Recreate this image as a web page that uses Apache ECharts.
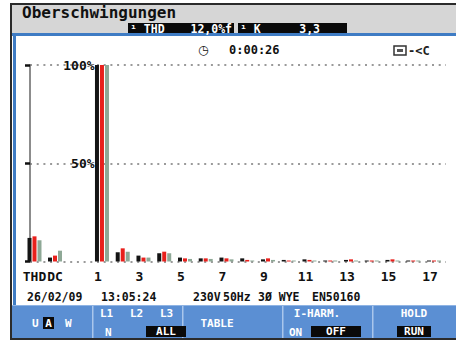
<!DOCTYPE html>
<html>
<head>
<meta charset="utf-8">
<script src="https://cdn.jsdelivr.net/npm/echarts@6/dist/echarts.min.js"></script>
<style>
  html, body { margin: 0; padding: 0; background: #fff; }
  #chart { width: 456px; height: 343px; }
</style>
</head>
<body>
<div id="chart"></div>
<script>
// Summary columns and harmonic orders on the x axis
const summaryCats = ['THD', 'DC'];
const harmonicCats = ['1', '2', '3', '4', '5', '6', '7', '8', '9', '10', '11', '12', '13', '14', '15', '16', '17'];

// Phase currents, % of fundamental (L1 black, L2 red, L3 grey)
const l1Summary = [12.0, 2.0];
const l2Summary = [12.8, 3.0];
const l3Summary = [10.8, 5.5];

const l1Harmonics = [100, 4.7, 3.0, 4.2, 2.0, 1.6, 2.0, 1.6, 1.1, 0.8, 1.1, 0.5, 0.8, 0.5, 0.8, 0.5, 0.5];
const l2Harmonics = [100, 6.7, 2.0, 5.0, 1.6, 1.6, 1.6, 0.8, 1.6, 0.5, 0.8, 0.5, 1.1, 0.5, 1.1, 0.5, 0.5];
const l3Harmonics = [100, 5.0, 2.0, 4.2, 1.3, 1.3, 1.1, 0.5, 0.8, 0.5, 0.5, 0.4, 0.5, 0.4, 0.5, 0.4, 0.4];

const C_L1 = '#141414', C_L2 = '#e8201c', C_L3 = '#8ea896';
const MONO = "'DejaVu Sans Mono', monospace";

const chart = echarts.init(document.getElementById('chart'), null, { renderer: 'svg' });

function barSeries(data, color, axis) {
  return {
    type: 'bar', data: data, xAxisIndex: axis, yAxisIndex: axis,
    barWidth: 4, barGap: '25%', barMinHeight: 1,
    itemStyle: { color: color }, silent: true, animation: false
  };
}

function txt(x, y, text, opt) {
  return {
    type: 'text', x: x, y: y, silent: true, z: 5,
    style: Object.assign({
      text: text, fill: '#111', font: 'bold 12px ' + MONO,
      textAlign: 'left', textVerticalAlign: 'middle'
    }, opt || {})
  };
}
function box(x, y, w, h, fill, z) {
  return { type: 'rect', silent: true, z: z || 1, shape: { x: x, y: y, width: w, height: h }, style: { fill: fill } };
}

const white = '#fff';
const keyFont = 'bold 11px ' + MONO;
const boxFont = 'bold 11.5px ' + MONO;
const tickText = { fontWeight: 'bold', fontSize: 13, fontFamily: MONO, color: '#111' };

const option = {
  backgroundColor: '#fff',
  animation: false,
  grid: [
    { left: 30, right: 10, top: 65, bottom: 81.5 },
    { left: 24.25, width: 41, top: 65, bottom: 81.5 },
    { left: 91.6, width: 352.75, top: 65, bottom: 81.5 }
  ],
  xAxis: [
    { gridIndex: 0, type: 'value', min: 0, max: 1, show: false },
    {
      gridIndex: 1, type: 'category', data: summaryCats,
      axisLine: { show: false }, axisTick: { show: false },
      axisLabel: Object.assign({ interval: 0, margin: 8, hideOverlap: false }, tickText)
    },
    {
      gridIndex: 2, type: 'category', data: harmonicCats,
      axisLine: { show: false }, axisTick: { show: false },
      axisLabel: {
        interval: 1, margin: 8,
        formatter: v => '{n|' + v + '}',
        rich: { n: Object.assign({ padding: [0, 8, 0, 0] }, tickText) }
      }
    }
  ],
  yAxis: [
    {
      gridIndex: 0, type: 'value', min: 0, max: 100, interval: 50,
      axisLine: { show: true, lineStyle: { color: '#666', width: 1.5 } },
      axisTick: { show: true, length: 5, lineStyle: { color: '#111', width: 2.5 } },
      axisLabel: { show: false },
      splitLine: { show: true, lineStyle: { color: '#9a9a9a', width: 2, type: [2, 4.7] } }
    },
    { gridIndex: 1, type: 'value', min: 0, max: 100, interval: 50, show: false },
    {
      gridIndex: 2, type: 'value', min: 0, max: 100, interval: 50,
      axisLine: { show: false }, axisTick: { show: false }, splitLine: { show: false },
      axisLabel: Object.assign({
        margin: -3,
        formatter: v => v === 0 ? '' : v + '%'
      }, tickText)
    }
  ],
  series: [
    barSeries(l1Summary, C_L1, 1),
    barSeries(l2Summary, C_L2, 1),
    barSeries(l3Summary, C_L3, 1),
    barSeries(l1Harmonics, C_L1, 2),
    barSeries(l2Harmonics, C_L2, 2),
    barSeries(l3Harmonics, C_L3, 2)
  ],
  graphic: [
    // instrument screen frame
    box(10, 3, 446, 2, '#2b2b2b'),
    box(10, 3, 2, 337, '#2b2b2b'),
    box(10, 338, 446, 2, '#2b2b2b'),
    box(12, 5, 444, 28, '#d6d6d6'),
    box(12, 33, 444, 3, '#3f7cc4'),
    box(13, 33, 3, 272, '#3f7cc4'),
    // header
    txt(22, 12.5, 'Oberschwingungen', { font: 'bold 16px ' + MONO }),
    box(128, 23, 106, 10, '#0a0a0a', 2),
    box(238, 23, 109, 10, '#0a0a0a', 2),
    txt(130, 28.5, '¹ THD', { fill: white, font: boxFont }),
    txt(232, 28.5, '12,0%f', { fill: white, font: boxFont, textAlign: 'right' }),
    txt(240, 28.5, '¹ K', { fill: white, font: boxFont }),
    txt(320, 28.5, '3,3', { fill: white, font: boxFont, textAlign: 'right' }),
    // elapsed time and supply indicator
    txt(198, 50, '◷', { font: 'bold 12px DejaVu Sans' }),
    txt(229, 50, '0:00:26', { font: 'bold 12px ' + MONO }),
    { type: 'rect', silent: true, z: 3, shape: { x: 394, y: 46, width: 12, height: 9 }, style: { fill: 'none', stroke: '#333', lineWidth: 1.5 } },
    box(397, 49, 6, 3, '#555', 3),
    txt(408, 50.5, '-<C', { font: 'bold 12px ' + MONO, fill: '#222' }),
    // status line
    txt(27, 297, '26/02/09', { font: 'bold 11.5px ' + MONO }),
    txt(101, 297, '13:05:24', { font: 'bold 11.5px ' + MONO }),
    txt(193, 297, '230V', { font: 'bold 11.5px ' + MONO }),
    txt(223, 297, '50Hz', { font: 'bold 11.5px ' + MONO }),
    txt(258, 297, '3Ø WYE', { font: 'bold 11.5px ' + MONO }),
    txt(312, 297, 'EN50160', { font: 'bold 11.5px ' + MONO }),
    // soft keys
    box(12, 305, 444, 33, '#5b8fd3'),
    box(12, 305, 444, 1, '#8fb4e4', 2),
    box(92, 306, 1.5, 32, '#a9c6ec', 2),
    box(182, 306, 1.5, 32, '#a9c6ec', 2),
    box(282, 306, 1.5, 32, '#a9c6ec', 2),
    box(372, 306, 1.5, 32, '#a9c6ec', 2),
    txt(32, 323, 'U', { fill: white, font: keyFont }),
    box(43, 317, 11, 12, '#0a0a0a', 2),
    txt(48.5, 323, 'A', { fill: white, font: keyFont, textAlign: 'center' }),
    txt(65, 323, 'W', { fill: white, font: keyFont }),
    txt(100, 313, 'L1', { fill: white, font: keyFont }),
    txt(130, 313, 'L2', { fill: white, font: keyFont }),
    txt(160, 313, 'L3', { fill: white, font: keyFont }),
    txt(105, 332, 'N', { fill: white, font: keyFont }),
    box(146, 326, 40, 11, '#0a0a0a', 2),
    txt(166, 331.5, 'ALL', { fill: white, font: keyFont, textAlign: 'center' }),
    txt(217, 323, 'TABLE', { fill: white, font: keyFont, textAlign: 'center' }),
    txt(317, 313, 'I-HARM.', { fill: white, font: keyFont, textAlign: 'center' }),
    txt(289, 332, 'ON', { fill: white, font: keyFont }),
    box(311, 326, 50, 11, '#0a0a0a', 2),
    txt(336, 331.5, 'OFF', { fill: white, font: keyFont, textAlign: 'center' }),
    txt(414, 313, 'HOLD', { fill: white, font: keyFont, textAlign: 'center' }),
    box(397, 326, 34, 11, '#0a0a0a', 2),
    txt(414, 331.5, 'RUN', { fill: white, font: keyFont, textAlign: 'center' })
  ]
};

chart.setOption(option);
</script>
</body>
</html>
